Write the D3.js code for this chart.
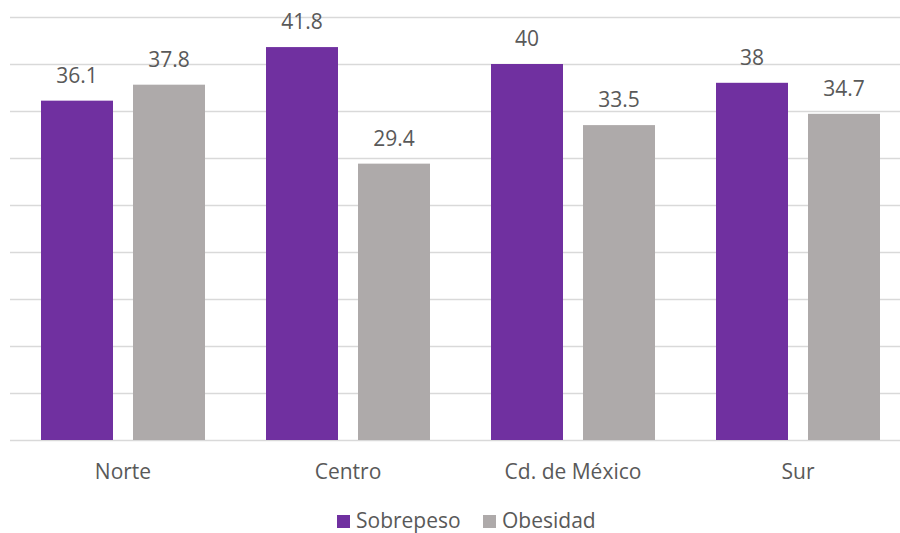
<!DOCTYPE html>
<html>
<head>
<meta charset="utf-8">
<script src="https://cdn.jsdelivr.net/npm/d3@7"></script>
<style>
  html, body { margin: 0; padding: 0; background: #fff; }
  svg { display: block; }
  text { font-family: "Open Sans", "Noto Sans", sans-serif; fill: #595959; }
</style>
</head>
<body>
<svg id="chart" width="900" height="533"></svg>
<script>
// Regions and series values (%)
const regions = ["Norte", "Centro", "Cd. de México", "Sur"];
const seriesNames = ["Sobrepeso", "Obesidad"];
const sobrepeso = [36.1, 41.8, 40, 38];
const obesidad = [37.8, 29.4, 33.5, 34.7];
const seriesColors = ["#7030A0", "#AEAAAA"];
const yTicks = [0, 5, 10, 15, 20, 25, 30, 35, 40, 45];

const seriesValues = [sobrepeso, obesidad];
const rows = regions.map((r, i) => ({
  region: r,
  values: seriesNames.map((s, j) => ({ series: s, value: seriesValues[j][i], idx: j }))
}));

const svg = d3.select("#chart");
const W = 900, H = 533;
const plot = { left: 10.5, right: 910.5, top: 17, bottom: 440 };
const FONT = 21;

const x0 = d3.scaleBand().domain(regions).range([plot.left, plot.right]).paddingInner(0).paddingOuter(0);
// two bars of 72px with a 20px gap, centred in each 225px band
const x1 = d3.scaleBand().domain(seriesNames).range([30.5, 194.5]).paddingInner(20 / 92).paddingOuter(0);
const y = d3.scaleLinear().domain([0, 45]).range([plot.bottom, plot.top]);

// gridlines
svg.append("g")
  .selectAll("line")
  .data(yTicks)
  .join("line")
  .attr("x1", plot.left - 0.5)
  .attr("x2", W)
  .attr("y1", d => Math.round(y(d)) + 0.5)
  .attr("y2", d => Math.round(y(d)) + 0.5)
  .attr("stroke", "#D9D9D9")
  .attr("stroke-width", 1.3);

// bars
const groups = svg.append("g")
  .selectAll("g")
  .data(rows)
  .join("g")
  .attr("transform", d => `translate(${x0(d.region)},0)`);

groups.selectAll("rect")
  .data(d => d.values)
  .join("rect")
  .attr("x", d => x1(d.series))
  .attr("width", x1.bandwidth())
  .attr("y", d => y(d.value))
  .attr("height", d => y(0) - y(d.value))
  .attr("fill", d => seriesColors[d.idx]);

// value labels
groups.selectAll("text")
  .data(d => d.values)
  .join("text")
  .attr("x", d => x1(d.series) + x1.bandwidth() / 2)
  .attr("y", d => y(d.value) - 18)
  .attr("text-anchor", "middle")
  .attr("font-size", FONT)
  .attr("fill", "#404040")
  .text(d => d.value);

// category axis labels
const xAxis = d3.axisBottom(x0).tickSize(0).tickPadding(0);
const axisG = svg.append("g")
  .attr("transform", `translate(0,${plot.bottom})`)
  .call(xAxis);
axisG.select(".domain").remove();
axisG.selectAll("text")
  .attr("dy", null)
  .attr("y", 39)
  .attr("font-size", FONT)
  .attr("font-family", '"Open Sans", "Noto Sans", sans-serif')
  .attr("fill", "#595959");

// legend
const legendItems = [
  { name: seriesNames[0], color: seriesColors[0], x: 337 },
  { name: seriesNames[1], color: seriesColors[1], x: 483 }
];
const legend = svg.append("g");
const li = legend.selectAll("g").data(legendItems).join("g")
  .attr("transform", d => `translate(${d.x},0)`);
li.append("rect")
  .attr("x", 0).attr("y", 515)
  .attr("width", 13).attr("height", 13)
  .attr("fill", d => d.color);
li.append("text")
  .attr("x", 19).attr("y", 528)
  .attr("font-size", FONT)
  .attr("fill", "#595959")
  .text(d => d.name);
</script>
</body>
</html>
